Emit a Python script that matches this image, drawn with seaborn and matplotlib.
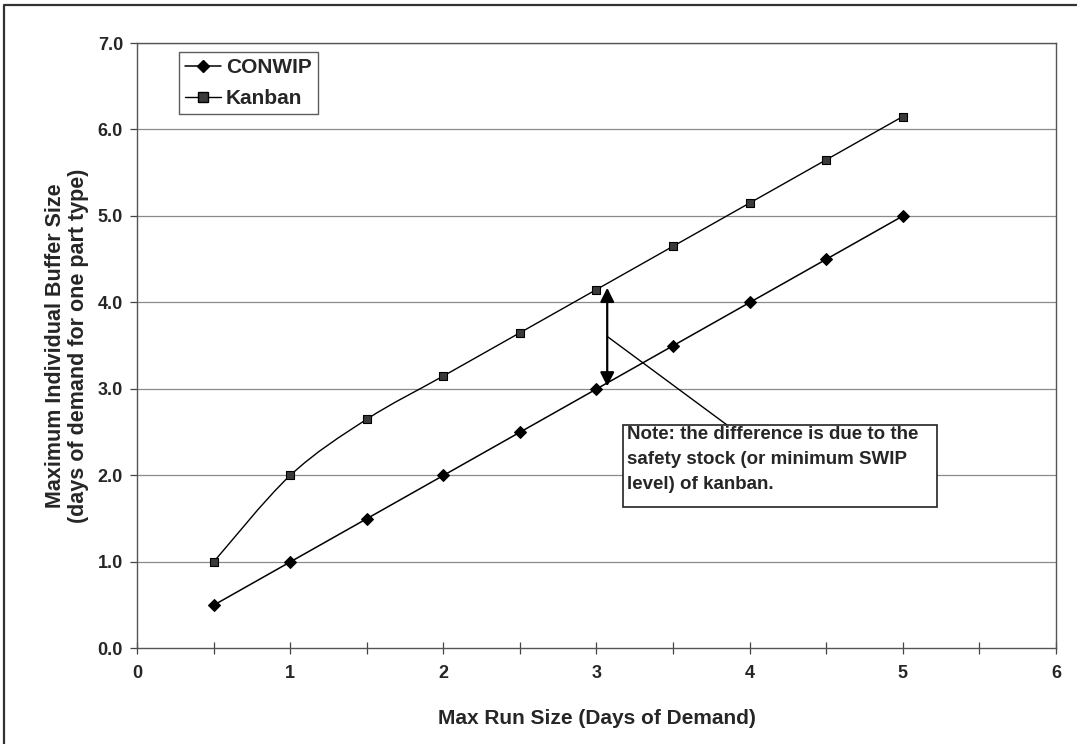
import numpy as np
import pandas as pd
import matplotlib
matplotlib.use("Agg")
import matplotlib.pyplot as plt
import seaborn as sns
from matplotlib.path import Path
from matplotlib.patches import PathPatch, Rectangle
from matplotlib.lines import Line2D
from matplotlib.ticker import FixedLocator, FuncFormatter

# ---- data ----
run_size = [0.5, 1.0, 1.5, 2.0, 2.5, 3.0, 3.5, 4.0, 4.5, 5.0]
conwip = [0.5, 1.0, 1.5, 2.0, 2.5, 3.0, 3.5, 4.0, 4.5, 5.0]
kanban = [1.0, 2.0, 2.65, 3.15, 3.65, 4.15, 4.65, 5.15, 5.65, 6.15]
series_names = ["CONWIP", "Kanban"]
x_ticks = [0, 1, 2, 3, 4, 5, 6]
y_ticks = [0, 1, 2, 3, 4, 5, 6, 7]
x_label = "Max Run Size (Days of Demand)"
y_label = "Maximum Individual Buffer Size\n(days of demand for one part type)"
note_text = ("Note: the difference is due to the\n"
             "safety stock (or minimum SWIP\n"
             "level) of kanban.")

sns.set_theme(style="white")
plt.rcParams["font.family"] = ["Liberation Sans", "DejaVu Sans"]

fig = plt.figure(figsize=(10.77, 7.44), dpi=100)
ax = fig.add_axes([0.1272, 0.1284, 0.8533, 0.8138])

df = pd.DataFrame({"x": run_size, "conwip": conwip, "kanban": kanban})

# CONWIP line (straight)
sns.lineplot(data=df, x="x", y="conwip", ax=ax, color="black", lw=1.1,
             marker="D", markersize=6, markeredgecolor="black", zorder=4)

# Kanban smoothed line (Excel-like Bezier smoothing through the data points)
P = np.column_stack([run_size, kanban])
n = len(P)
verts = [tuple(P[0])]
codes = [Path.MOVETO]
for i in range(n - 1):
    p_prev = P[i - 1] if i > 0 else P[i]
    p_next2 = P[i + 2] if i + 2 < n else P[i + 1]
    c1 = P[i] + (P[i + 1] - p_prev) / 6.0
    c2 = P[i + 1] - (p_next2 - P[i]) / 6.0
    verts += [tuple(c1), tuple(c2), tuple(P[i + 1])]
    codes += [Path.CURVE4] * 3
ax.add_patch(PathPatch(Path(verts, codes), facecolor="none", edgecolor="black",
                       lw=1.0, zorder=3))
sns.scatterplot(data=df, x="x", y="kanban", ax=ax, marker="s", s=40,
                color="#3a3a3a", edgecolor="black", linewidth=0.8, zorder=5)

# axes limits / ticks
ax.set_xlim(0, 6)
ax.set_ylim(0, 7)
ax.xaxis.set_major_locator(FixedLocator(np.arange(0, 6.01, 0.5)))
ax.xaxis.set_major_formatter(FuncFormatter(
    lambda v, p: f"{int(round(v))}" if abs(v - round(v)) < 1e-6 and int(round(v)) in x_ticks else ""))
ax.yaxis.set_major_locator(FixedLocator(y_ticks))
ax.yaxis.set_major_formatter(FuncFormatter(lambda v, p: f"{v:.1f}"))
ax.tick_params(axis="x", direction="inout", length=8, width=0.9, color="#444444",
               labelsize=13, pad=8, bottom=True)
ax.tick_params(axis="y", direction="out", length=5, width=0.9, color="#444444",
               labelsize=13, pad=5, left=True)
for lab in ax.get_xticklabels() + ax.get_yticklabels():
    lab.set_fontweight("bold")

# gridlines at 1..7
for yv in y_ticks[1:]:
    ax.axhline(yv, color="#8a8a8a", lw=0.9, zorder=1)

for sp in ax.spines.values():
    sp.set_visible(True)
    sp.set_color("#555555")
    sp.set_linewidth(1.0)

ax.set_xlabel(x_label, fontsize=15, fontweight="bold")
ax.xaxis.set_label_coords(0.5, -0.115)
ax.xaxis.label.set_va("center")
ax.set_ylabel(y_label, fontsize=15.5, fontweight="bold", linespacing=1.1)
ax.yaxis.set_label_coords(-0.076, 0.5)
ax.yaxis.label.set_va("center")

# legend
handles = [
    Line2D([], [], color="black", lw=1.1, marker="D", markersize=6,
           markerfacecolor="black", markeredgecolor="black"),
    Line2D([], [], color="black", lw=1.0, marker="s", markersize=6.5,
           markerfacecolor="#3a3a3a", markeredgecolor="black"),
]
leg = ax.legend(handles, series_names, loc="upper left",
                bbox_to_anchor=(0.0457, 0.985), frameon=True, fancybox=False,
                edgecolor="#333333", borderpad=0.3, handlelength=1.7,
                handletextpad=0.25, labelspacing=0.55, borderaxespad=0,
                prop={"weight": "bold", "size": 15})
leg.get_frame().set_linewidth(1.0)

# double arrow between the series at x ~ 3.07
ax.annotate("", xy=(3.07, 4.17), xytext=(3.07, 3.03),
            arrowprops=dict(arrowstyle="<|-|>", color="black", lw=1.6,
                            mutation_scale=21, shrinkA=0, shrinkB=0), zorder=6)
# pointer line to the note box
ax.plot([3.068, 3.852], [3.61, 2.584], color="black", lw=1.0, zorder=6)

# note box
ax.add_patch(Rectangle((3.173, 1.636), 5.223 - 3.173, 2.584 - 1.636,
                       facecolor="white", edgecolor="#222222", lw=1.2, zorder=7))
ax.text(3.198, 2.575, note_text, ha="left", va="top", fontsize=13.5,
        fontweight="bold", linespacing=1.62, zorder=8)

# outer border (left and top)
fig.add_artist(Line2D([4 / 1077, 4 / 1077, 1.0], [0.0, 1 - 5 / 744, 1 - 5 / 744],
                      transform=fig.transFigure, color="#333333", lw=1.6))

fig.savefig("out.png", dpi=100)
